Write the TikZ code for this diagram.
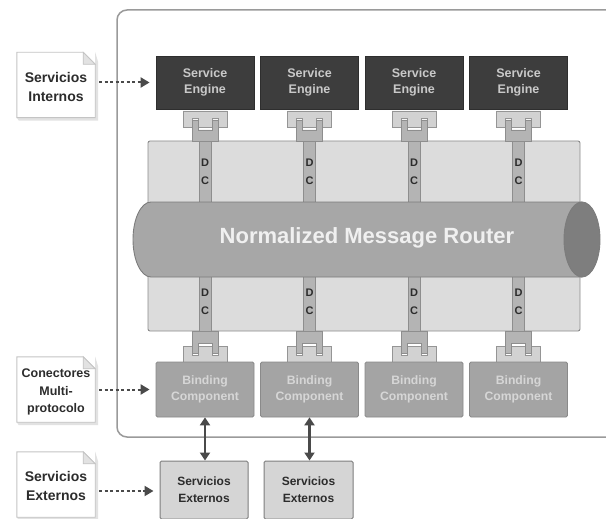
\documentclass[tikz,border=0pt]{standalone}
\usepackage{fontspec}
\setmainfont{Liberation Sans}
\usetikzlibrary{arrows.meta}

\definecolor{framecol}{HTML}{9A9A9A}
\definecolor{sefill}{HTML}{3D3D3D}
\definecolor{sedraw}{HTML}{2E2E2E}
\definecolor{setext}{HTML}{C9C9C9}
\definecolor{panelfill}{HTML}{DCDCDC}
\definecolor{paneldraw}{HTML}{8C8C8C}
\definecolor{stripfill}{HTML}{B4B4B4}
\definecolor{stripdraw}{HTML}{8E8E8E}
\definecolor{cylfill}{HTML}{A7A7A7}
\definecolor{cyldraw}{HTML}{7C7C7C}
\definecolor{capfill}{HTML}{7E7E7E}
\definecolor{bcfill}{HTML}{A4A4A4}
\definecolor{bcdraw}{HTML}{8A8A8A}
\definecolor{bctext}{HTML}{D6D6D6}
\definecolor{extfill}{HTML}{D5D5D5}
\definecolor{extdraw}{HTML}{7E7E7E}
\definecolor{darktext}{HTML}{2C2C2C}
\definecolor{sockfill}{HTML}{D2D2D2}
\definecolor{sockdraw}{HTML}{959595}
\definecolor{arrowcol}{HTML}{4A4A4A}
\definecolor{notedraw}{HTML}{C4C4C4}
\definecolor{noteshadow}{HTML}{E2E2E2}

\tikzset{
  sebox/.style={fill=sefill, draw=sedraw, line width=0.8, minimum width=98, minimum height=53,
    text=setext, align=center, font=\bfseries\fontsize{12.5}{16.5}\selectfont, inner sep=0},
  bcbox/.style={fill=bcfill, draw=bcdraw, line width=0.8, minimum width=98, minimum height=55,
    text=bctext, align=center, font=\bfseries\fontsize{12.2}{16.5}\selectfont, inner sep=0, rounded corners=1.5},
  extbox/.style={fill=extfill, draw=extdraw, line width=1, minimum height=58,
    text=darktext, align=center, font=\bfseries\fontsize{12}{17}\selectfont, inner sep=0, rounded corners=1.5},
  notebox/.style={minimum width=78, minimum height=65, text=darktext, align=center, inner sep=0},
  dotarrow/.style={draw=arrowcol, line width=2, dash pattern=on 3pt off 2.5pt,
    -{Triangle[length=9pt,width=10pt]}, shorten <=4pt, shorten >=6pt},
  dblarrow/.style={draw=arrowcol, line width=2.6,
    {Triangle[length=8pt,width=10pt]}-{Triangle[length=8pt,width=10pt]}},
  dclabel/.style={text=darktext, font=\bfseries\fontsize{11}{12}\selectfont, inner sep=0},
}

% folded-corner note drawn around a named node
\newcommand{\notesheet}[1]{%
  \fill[noteshadow] ([xshift=2pt,yshift=-3pt]#1.south west) -- ([xshift=3pt,yshift=-3pt]#1.south east)
    -- ([xshift=3pt,yshift=-10pt]#1.north east) -- (#1.north east) -- (#1.south east) -- (#1.south west) -- cycle;
  \filldraw[fill=white, draw=notedraw, line width=0.9] (#1.north west) -- ([xshift=-12pt]#1.north east)
    -- ([yshift=-12pt]#1.north east) -- (#1.south east) -- (#1.south west) -- cycle;
  \filldraw[fill=noteshadow, draw=notedraw, line width=0.7] ([xshift=-12pt]#1.north east)
    -- ([xshift=-12pt,yshift=-12pt]#1.north east) -- ([yshift=-12pt]#1.north east) -- cycle;
}

\begin{document}
\begin{tikzpicture}[x=1pt, y=-1pt, font=\bfseries]
\useasboundingbox (0,0) rectangle (606,519);
\clip (0,0) rectangle (606,519);
\fill[white] (0,0) rectangle (606,519);

% outer container
\draw[framecol, line width=1.5, rounded corners=10] (117,10) rectangle (660,437);

% bus panel
\node[fill=panelfill, draw=paneldraw, line width=0.9, minimum width=432, minimum height=190,
  rounded corners=2, inner sep=0] (bus) at (364,236) {};

% component columns
\foreach \i in {0,1,2,3} {
  \pgfmathsetmacro{\cx}{205+104.5*\i}
  % delivery channel strip
  \filldraw[fill=stripfill, draw=stripdraw, line width=0.6] (\cx-6,141) rectangle (\cx+6,331);
  \node[dclabel] at (\cx,163) {D};
  \node[dclabel] at (\cx,181) {C};
  \node[dclabel] at (\cx,293) {D};
  \node[dclabel] at (\cx,311) {C};
  % upper socket and plug
  \begin{scope}[shift={(\cx,111)}]
    \filldraw[fill=sockfill, draw=sockdraw, line width=0.9]
      (-22,0) -- (22,0) -- (22,16) -- (13,16) -- (13,7) -- (7,7) -- (7,16) -- (-7,16)
      -- (-7,7) -- (-13,7) -- (-13,16) -- (-22,16) -- cycle;
    \filldraw[fill=stripfill, draw=stripdraw, line width=0.8]
      (-13,9) -- (-7,9) -- (-7,19) -- (7,19) -- (7,9) -- (13,9) -- (13,30) -- (-13,30) -- cycle;
  \end{scope}
  % lower socket and plug
  \begin{scope}[shift={(\cx,362)}, yscale=-1]
    \filldraw[fill=sockfill, draw=sockdraw, line width=0.9]
      (-22,0) -- (22,0) -- (22,16) -- (13,16) -- (13,7) -- (7,7) -- (7,16) -- (-7,16)
      -- (-7,7) -- (-13,7) -- (-13,16) -- (-22,16) -- cycle;
    \filldraw[fill=stripfill, draw=stripdraw, line width=0.8]
      (-13,9) -- (-7,9) -- (-7,19) -- (7,19) -- (7,9) -- (13,9) -- (13,31) -- (-13,31) -- cycle;
  \end{scope}
  \node[sebox] (se\i) at (\cx,82.5) {Service\\Engine};
  \node[bcbox] (bc\i) at (\cx,389.5) {Binding\\Component};
}

% normalized message router cylinder
\filldraw[fill=cylfill, draw=cyldraw, line width=0.9]
  (582,202) -- (151,202) arc[start angle=270, end angle=90, x radius=18, y radius=37.5]
  -- (582,277) -- cycle;
\filldraw[fill=capfill, draw=cyldraw, line width=0.9] (582,239.5) ellipse[x radius=18, y radius=37.5];
\node[text=white!94!black, font=\bfseries\fontsize{22}{26}\selectfont, inner sep=0] (nmr) at (367,238)
  {Normalized Message Router};

% external services
\node[extbox, minimum width=88] (ext0) at (204,490) {Servicios\\Externos};
\node[extbox, minimum width=89] (ext1) at (308.5,490) {Servicios\\Externos};
\draw[dblarrow] (bc0.south) -- (bc0.south |- ext0.north);
\draw[dblarrow] (bc1.south) -- (bc1.south |- ext1.north);

% side notes
\node[notebox] (n1) at (56,85) {};
\notesheet{n1}
\node[text=darktext, align=center, font=\bfseries\fontsize{14}{19}\selectfont] at (56,87) {Servicios\\Internos};

\node[notebox] (n2) at (56,389.5) {};
\notesheet{n2}
\node[text=darktext, align=center, font=\bfseries\fontsize{12.5}{17.5}\selectfont] at (56,392) {Conectores\\Multi-\\protocolo};

\node[notebox] (n3) at (56,484.5) {};
\notesheet{n3}
\node[text=darktext, align=center, font=\bfseries\fontsize{14}{19}\selectfont] at (56,486) {Servicios\\Externos};

\draw[dotarrow] (n1.east |- se0.west) -- (se0.west);
\draw[dotarrow] (n2.east |- bc0.west) -- (bc0.west);
\draw[dotarrow] ([yshift=-1pt]n3.east |- ext0.west) -- ([yshift=-1pt]ext0.west);
\end{tikzpicture}
\end{document}
